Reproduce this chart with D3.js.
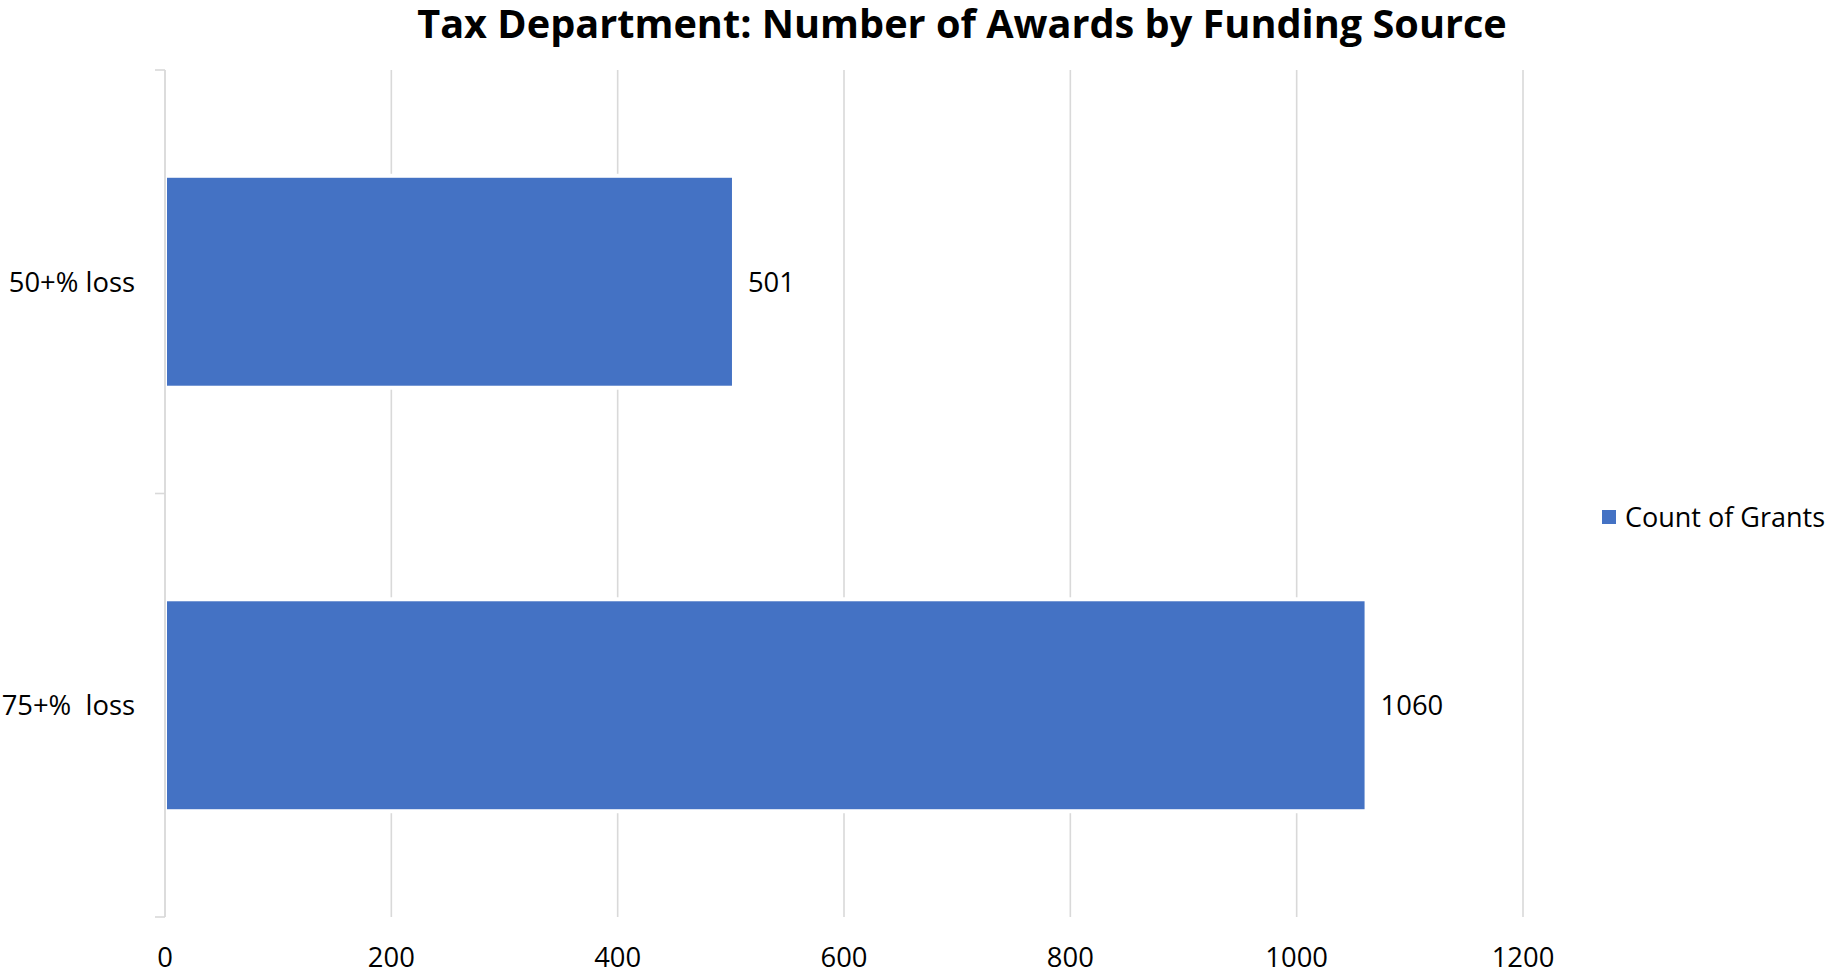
<!DOCTYPE html>
<html>
<head>
<meta charset="utf-8">
<script src="https://cdn.jsdelivr.net/npm/d3@7"></script>
<style>
  html, body { margin: 0; padding: 0; background: #ffffff; }
  svg { display: block; }
  text { font-family: "Open Sans", "Noto Sans", sans-serif; fill: #000; }
</style>
</head>
<body>
<svg id="chart" width="1832" height="974"></svg>
<script>
const categories = ["50+% loss", "75+%  loss"];
const counts = [501, 1060];
const xTicks = [0, 200, 400, 600, 800, 1000, 1200];
const seriesName = "Count of Grants";
const titleText = "Tax Department: Number of Awards by Funding Source";

const W = 1832, H = 974;
const plot = { left: 165, right: 1523, top: 70, bottom: 917 };
const barColor = "#4472C4";
const gridColor = "#d9d9d9";

const svg = d3.select("#chart");

const x = d3.scaleLinear().domain([0, 1200]).range([plot.left, plot.right]);
const y = d3.scaleBand().domain(categories).range([plot.top, plot.bottom])
  .paddingInner(0.509).paddingOuter(0.2545);

// gridlines
svg.append("g").selectAll("line").data(xTicks.slice(1)).join("line")
  .attr("x1", d => x(d)).attr("x2", d => x(d))
  .attr("y1", plot.top).attr("y2", plot.bottom)
  .attr("stroke", gridColor).attr("stroke-width", 1.6);

// category axis line + ticks
const boundaries = [plot.top].concat(categories.map(c => y(c) + y.bandwidth() + y.step() * y.paddingInner() / 2));
boundaries[boundaries.length - 1] = plot.bottom;
svg.append("line")
  .attr("x1", plot.left).attr("x2", plot.left)
  .attr("y1", plot.top).attr("y2", plot.bottom)
  .attr("stroke", gridColor).attr("stroke-width", 1.8);
svg.append("g").selectAll("line").data(boundaries).join("line")
  .attr("x1", plot.left - 10).attr("x2", plot.left)
  .attr("y1", d => d).attr("y2", d => d)
  .attr("stroke", gridColor).attr("stroke-width", 1.6);

// white halo behind bars (gap in gridlines)
const data = categories.map((c, i) => ({ c, v: counts[i] }));
svg.append("g").selectAll("rect").data(data).join("rect")
  .attr("x", plot.left + 1.5)
  .attr("y", d => y(d.c) - 4)
  .attr("width", d => x(d.v) - plot.left - 1.5)
  .attr("height", y.bandwidth() + 8)
  .attr("fill", "#fff");

// bars
svg.append("g").selectAll("rect").data(data).join("rect")
  .attr("x", plot.left + 2)
  .attr("y", d => y(d.c))
  .attr("width", d => x(d.v) - plot.left - 2)
  .attr("height", y.bandwidth())
  .attr("fill", barColor);

// data labels
svg.append("g").selectAll("text").data(data).join("text")
  .attr("x", d => x(d.v) + 16)
  .attr("y", d => y(d.c) + y.bandwidth() / 2 + 10)
  .attr("font-size", 27.4)
  .text(d => d.v);

// category labels
svg.append("g").selectAll("text").data(categories).join("text")
  .attr("x", 135)
  .attr("y", d => y(d) + y.bandwidth() / 2 + 10)
  .attr("text-anchor", "end")
  .attr("font-size", 27.4)
  .style("white-space", "pre")
  .attr("xml:space", "preserve")
  .text(d => d);

// x tick labels
svg.append("g").selectAll("text").data(xTicks).join("text")
  .attr("x", d => x(d))
  .attr("y", 967)
  .attr("text-anchor", "middle")
  .attr("font-size", 27.4)
  .text(d => d);

// title
const title = svg.append("text")
  .attr("x", 962).attr("y", 38)
  .attr("text-anchor", "middle")
  .attr("font-size", 38.8)
  .attr("font-weight", "bold")
  .text(titleText);
const tl = title.node().getComputedTextLength();
title.attr("font-size", Math.min(40.5, 38.8 * 1090 / tl));

// legend
const lg = svg.append("g");
lg.append("rect").attr("x", 1602).attr("y", 510).attr("width", 14).attr("height", 14).attr("fill", barColor);
lg.append("text").attr("x", 1625).attr("y", 526.5)
  .attr("font-size", 27)
  .text(seriesName);
</script>
</body>
</html>
